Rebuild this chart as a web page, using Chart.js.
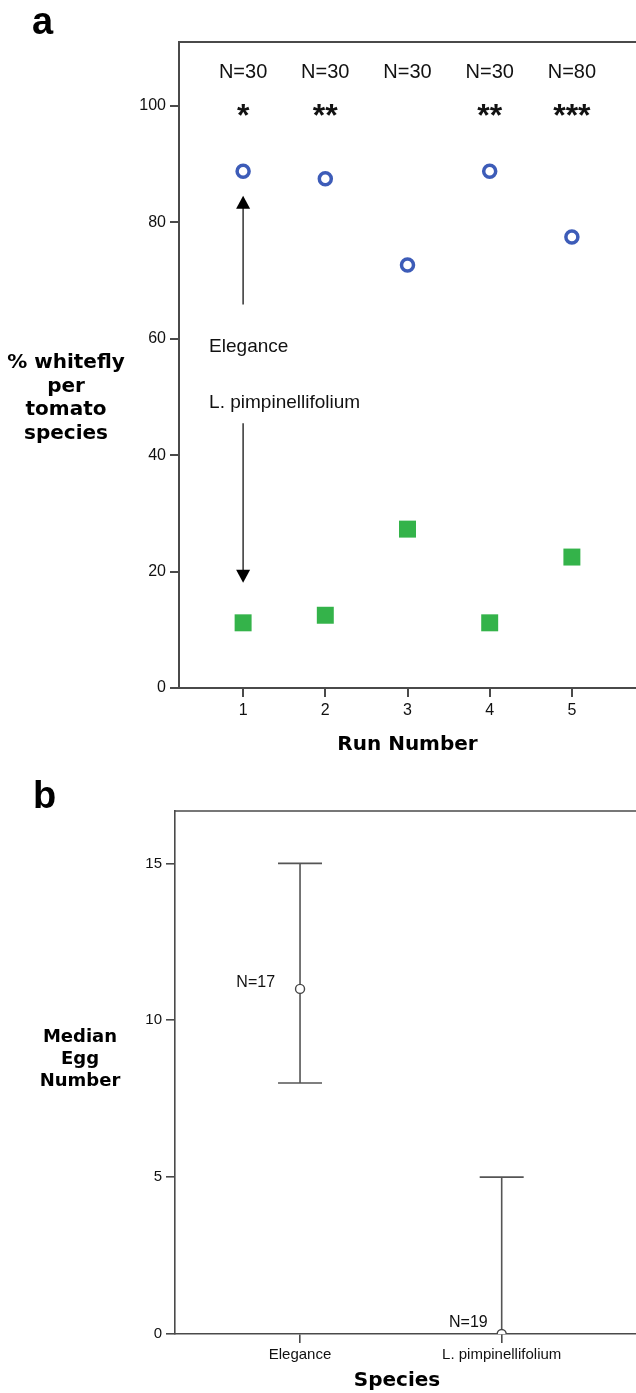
<!DOCTYPE html>
<html>
<head>
<meta charset="utf-8">
<script src="https://cdn.jsdelivr.net/npm/chart.js@4.4.0/dist/chart.umd.min.js"></script>
<style>
  body { margin: 0; background: #fff; }
  #wrapA { position: absolute; left: 0; top: 0; width: 636px; height: 760px; }
  #wrapB { position: absolute; left: 0; top: 760px; width: 636px; height: 633px; }
</style>
</head>
<body>
<div id="wrapA"><canvas id="chartA" width="636" height="760"></canvas></div>
<div id="wrapB"><canvas id="chartB" width="636" height="633"></canvas></div>
<script>
// panel a: % whitefly choosing each species, per run
const runs = [1, 2, 3, 4, 5];
const elegancePct = [88.8, 87.5, 72.7, 88.8, 77.5];
const pimpPct = [11.2, 12.5, 27.3, 11.2, 22.5];
const runN = ['N=30', 'N=30', 'N=30', 'N=30', 'N=80'];
const runStars = ['*', '**', '', '**', '***'];
const yTicksA = [0, 20, 40, 60, 80, 100];

// panel b: median egg number per species
const species = ['Elegance', 'L. pimpinellifolium'];
const medianEggs = [11, 0];
const eggLow = [8, 0];
const eggHigh = [15, 5];
const speciesN = ['N=17', 'N=19'];
const yTicksB = [0, 5, 10, 15];

const axisColor = '#4a4a4a';
const tickFont = 'Liberation Sans';
const titleFont = 'DejaVu Sans';

function drawArrow(ctx, x, yFrom, yTo) {
    let dir = yTo < yFrom ? -1 : 1;
    ctx.save();
    ctx.strokeStyle = '#333';
    ctx.fillStyle = '#000';
    ctx.lineWidth = 1.5;
    ctx.beginPath();
    ctx.moveTo(x, yFrom);
    ctx.lineTo(x, yTo - dir * 12);
    ctx.stroke();
    ctx.beginPath();
    ctx.moveTo(x, yTo);
    ctx.lineTo(x - 7, yTo - dir * 13);
    ctx.lineTo(x + 7, yTo - dir * 13);
    ctx.closePath();
    ctx.fill();
    ctx.restore();
}

function topBorder(chart, width) {
    let ctx = chart.ctx, a = chart.chartArea;
    ctx.save();
    ctx.strokeStyle = axisColor;
    ctx.lineWidth = width;
    ctx.beginPath();
    ctx.moveTo(a.left - width / 2, a.top);
    ctx.lineTo(chart.width, a.top);
    ctx.stroke();
    ctx.restore();
}

//Annotations for panel a
const panelA = {
    id: 'panelA',
    afterDraw(chart) {
        let ctx = chart.ctx;
        let xs = chart.scales.x, ys = chart.scales.y;
        topBorder(chart, 2);

        ctx.save();
        ctx.fillStyle = '#111';
        ctx.textAlign = 'center';
        ctx.textBaseline = 'middle';
        for (let i = 0; i < runs.length; i++) {
            let px = xs.getPixelForValue(runs[i]);
            ctx.font = '20px "' + tickFont + '"';
            ctx.fillText(runN[i], px, ys.getPixelForValue(105.7));
            ctx.font = 'bold 32px "' + tickFont + '"';
            ctx.fillText(runStars[i], px, ys.getPixelForValue(98.1));
        }

        // arrows pointing to each species
        let ax = xs.getPixelForValue(runs[0]);
        drawArrow(ctx, ax, ys.getPixelForValue(65.9), ys.getPixelForValue(84.6));
        drawArrow(ctx, ax, ys.getPixelForValue(45.5), ys.getPixelForValue(18.1));

        ctx.textAlign = 'left';
        ctx.font = '19px "' + tickFont + '"';
        ctx.fillText(species[0], ax - 34, ys.getPixelForValue(58.7));
        ctx.fillText(species[1], ax - 34, ys.getPixelForValue(49.0));

        // axis titles
        ctx.fillStyle = '#000';
        ctx.textAlign = 'center';
        ctx.font = 'bold 20px "' + titleFont + '"';
        let lines = ['% whitefly', 'per', 'tomato', 'species'];
        lines.forEach((t, i) => ctx.fillText(t, 66, 363 + i * 23.5));
        ctx.fillText('Run Number', (chart.chartArea.left + chart.chartArea.right) / 2, 745);

        ctx.textAlign = 'left';
        ctx.textBaseline = 'alphabetic';
        ctx.font = 'bold 38px "' + tickFont + '"';
        ctx.fillText('a', 32, 34);
        ctx.restore();
    }
};

//Error bars and labels for panel b
const panelB = {
    id: 'panelB',
    beforeDatasetsDraw(chart) {
        let ctx = chart.ctx;
        let xs = chart.scales.x, ys = chart.scales.y;
        ctx.save();
        ctx.strokeStyle = '#555';
        ctx.lineWidth = 1.6;
        for (let i = 0; i < species.length; i++) {
            let px = xs.getPixelForValue(i);
            let lo = ys.getPixelForValue(eggLow[i]);
            let hi = ys.getPixelForValue(eggHigh[i]);
            ctx.beginPath();
            ctx.moveTo(px, lo);
            ctx.lineTo(px, hi);
            ctx.moveTo(px - 22, hi);
            ctx.lineTo(px + 22, hi);
            if (eggLow[i] > 0) {
                ctx.moveTo(px - 22, lo);
                ctx.lineTo(px + 22, lo);
            }
            ctx.stroke();
        }
        ctx.restore();
    },
    afterDraw(chart) {
        let ctx = chart.ctx;
        let xs = chart.scales.x, ys = chart.scales.y;
        topBorder(chart, 1.6);

        ctx.save();
        ctx.fillStyle = '#111';
        ctx.textAlign = 'right';
        ctx.textBaseline = 'middle';
        ctx.font = '16px "' + tickFont + '"';
        ctx.fillText(speciesN[0], xs.getPixelForValue(0) - 25, ys.getPixelForValue(11.2));
        ctx.fillText(speciesN[1], xs.getPixelForValue(1) - 14, ys.getPixelForValue(0.36));

        ctx.fillStyle = '#000';
        ctx.textAlign = 'center';
        ctx.font = 'bold 18px "' + titleFont + '"';
        ['Median', 'Egg', 'Number'].forEach((t, i) => ctx.fillText(t, 80, 277 + i * 22));
        ctx.font = 'bold 20px "' + titleFont + '"';
        ctx.fillText('Species', 397, 621);

        ctx.textAlign = 'left';
        ctx.textBaseline = 'alphabetic';
        ctx.font = 'bold 38px "' + tickFont + '"';
        ctx.fillText('b', 33, 48);
        ctx.restore();
    }
};

function axisOpts(width) {
    return {
        border: { display: true, color: axisColor, width: width },
        grid: { drawOnChartArea: false, drawTicks: true, tickLength: 9, color: axisColor, lineWidth: width }
    };
}

// fixed axis size, no extra label padding so the plot reaches the canvas edge
function fixSize(dim, size) {
    return s => {
        s[dim] = size;
        s.paddingLeft = 0; s.paddingRight = 0;
        s.paddingTop = 0; s.paddingBottom = 0;
    };
}

new Chart(document.getElementById('chartA'), {
    type: 'scatter',
    data: {
        datasets: [{
            label: species[0],
            data: runs.map((r, i) => ({ x: r, y: elegancePct[i] })),
            pointStyle: 'circle',
            pointRadius: 6,
            borderWidth: 3.5,
            borderColor: '#3d5cb8',
            backgroundColor: '#fff'
        }, {
            label: species[1],
            data: runs.map((r, i) => ({ x: r, y: pimpPct[i] })),
            pointStyle: 'rect',
            pointRadius: 12,
            borderWidth: 0,
            borderColor: '#34b34a',
            backgroundColor: '#34b34a'
        }]
    },
    options: {
        responsive: false,
        animation: false,
        events: [],
        layout: { autoPadding: false, padding: { top: 42, left: 0, right: 0, bottom: 0 } },
        plugins: { legend: { display: false }, tooltip: { enabled: false } },
        scales: {
            x: Object.assign(axisOpts(2), {
                type: 'linear', min: 0.22, max: 5.78,
                afterBuildTicks: s => { s.ticks = runs.map(v => ({ value: v })); },
                afterFit: fixSize('height', 72),
                ticks: { color: '#111', font: { family: tickFont, size: 16 }, padding: 4 }
            }),
            y: Object.assign(axisOpts(2), {
                min: 0, max: 111,
                afterBuildTicks: s => { s.ticks = yTicksA.map(v => ({ value: v })); },
                afterFit: fixSize('width', 179),
                ticks: { color: '#111', font: { family: tickFont, size: 16 }, padding: 4 }
            })
        }
    },
    plugins: [panelA]
});

new Chart(document.getElementById('chartB'), {
    type: 'scatter',
    data: {
        datasets: [{
            label: 'Median',
            data: species.map((s, i) => ({ x: i, y: medianEggs[i] })),
            pointStyle: 'circle',
            pointRadius: 4.5,
            borderWidth: 1.4,
            borderColor: '#444',
            backgroundColor: '#fff'
        }]
    },
    options: {
        responsive: false,
        animation: false,
        events: [],
        layout: { autoPadding: false, padding: { top: 51, left: 0, right: 0, bottom: 0 } },
        plugins: { legend: { display: false }, tooltip: { enabled: false } },
        scales: {
            x: Object.assign(axisOpts(1.6), {
                type: 'linear', min: -0.62, max: 1.666,
                afterBuildTicks: s => { s.ticks = species.map((v, i) => ({ value: i })); },
                afterFit: fixSize('height', 59),
                ticks: { color: '#111', font: { family: tickFont, size: 15 }, padding: 3,
                         callback: v => species[v] }
            }),
            y: Object.assign(axisOpts(1.6), {
                min: 0, max: 16.67,
                afterBuildTicks: s => { s.ticks = yTicksB.map(v => ({ value: v })); },
                afterFit: fixSize('width', 175),
                ticks: { color: '#111', font: { family: tickFont, size: 15 }, padding: 4 }
            })
        }
    },
    plugins: [panelB]
});
</script>
</body>
</html>
